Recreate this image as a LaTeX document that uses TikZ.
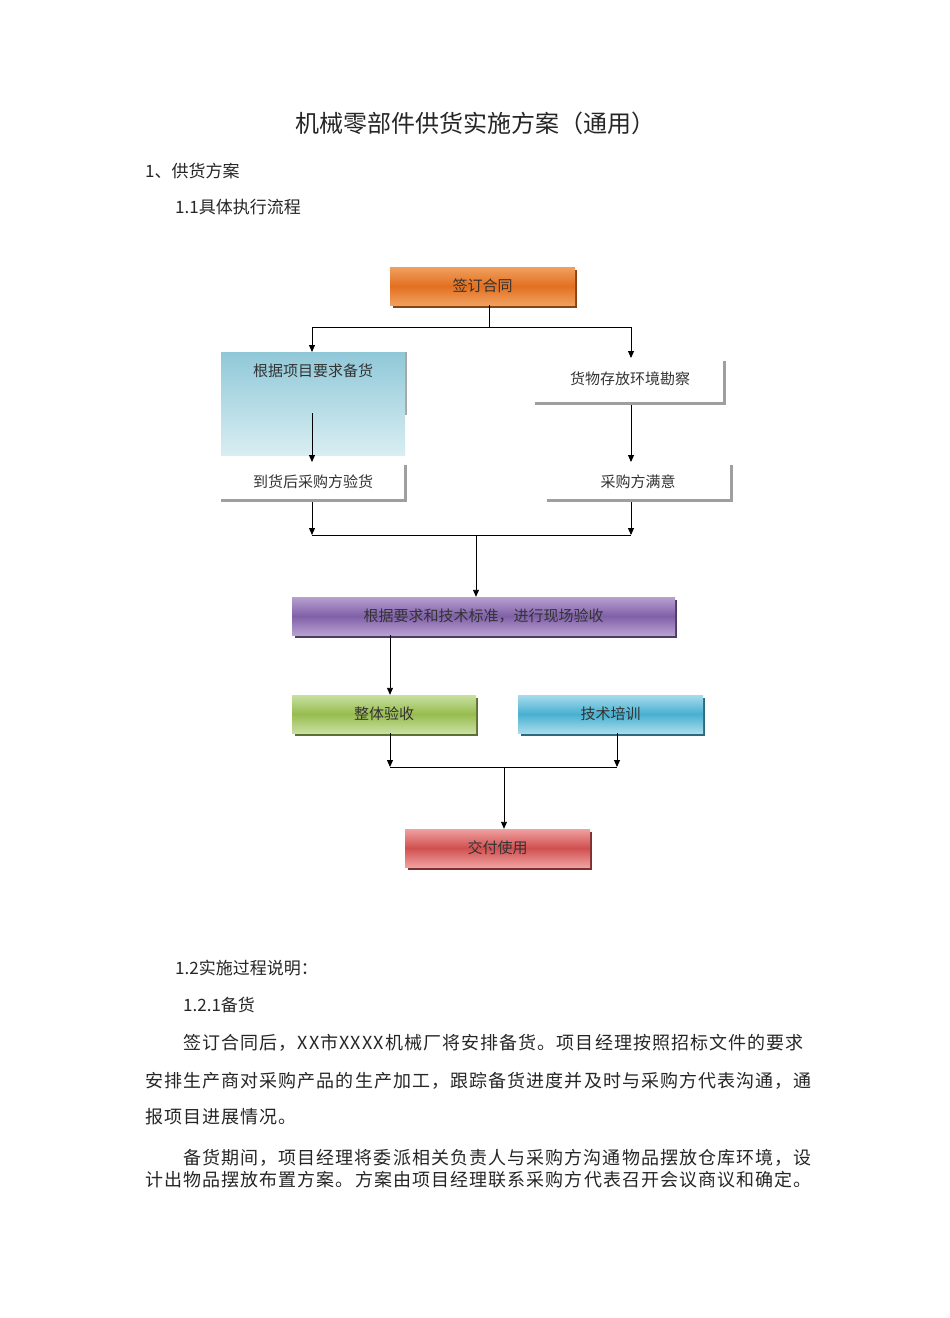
\documentclass[tikz,border=0pt]{standalone}
\usepackage{fontspec}
\setmainfont{Noto Sans CJK SC}
\newfontfamily\parafont[LetterSpace=6]{Noto Sans CJK SC}
\usetikzlibrary{arrows.meta}
\begin{document}
\begin{tikzpicture}[x=1pt,y=-1pt,
  txt/.style={font=\fontsize{17}{20}\selectfont, text=black!85, anchor=west, inner sep=0},
  ptxt/.style={font=\parafont\fontsize{18}{20}\selectfont, text=black!85, anchor=west, inner sep=0},
  lbl/.style={font=\fontsize{15}{17}\selectfont, text=black!80},
  arr/.style={-{Triangle[length=7pt,width=6pt]}, line width=0.9pt},
  ln/.style={line width=0.9pt}]
\useasboundingbox (0,0) rectangle (950,1318);
\fill[white] (0,0) rectangle (950,1318);
\newcommand{\mybox}[7]{%
  \fill[#7!60!black] (#2+3,#3+3) rectangle (#4+2,#5+3);
  \shade[top color=#6, bottom color=#6, middle color=#7] (#2,#3) rectangle (#4,#5);
  \node[lbl, minimum width=#4-#2, minimum height=#5-#3, inner sep=0] (#1) at ({(#2+#4)/2},{(#3+#5)/2}) {};
}
\definecolor{orT}{HTML}{F0A060}\definecolor{orM}{HTML}{E27020}
\definecolor{puT}{HTML}{B8A0D0}\definecolor{puM}{HTML}{8060A8}
\definecolor{grT}{HTML}{C8E0A0}\definecolor{grM}{HTML}{98BC50}
\definecolor{blT}{HTML}{A8DCEC}\definecolor{blM}{HTML}{48B0D0}
\definecolor{rdT}{HTML}{F0A0A0}\definecolor{rdM}{HTML}{D05050}
\definecolor{cyT}{HTML}{D8EEF2}\definecolor{cyM}{HTML}{90C8D8}

\node[font=\fontsize{24}{28}\selectfont, text=black!85] (title) at (475,123) {机械零部件供货实施方案（通用）};
\node[txt] (h1) at (145,171) {1、供货方案};
\node[txt] (h11) at (175,207) {1.1具体执行流程};

\mybox{sign}{390}{267}{575}{305}{orT}{orM}
\node[lbl] at (sign) {签订合同};
\fill[gray!70] (404,352) rectangle (407,415);
\shade[top color=cyM, bottom color=cyT] (221,352) rectangle (405,455);
\node[minimum width=184, minimum height=103, inner sep=0] (prep) at (313,403.5) {};
\node[lbl] at (313,371) {根据项目要求备货};
\newcommand{\wbox}[5]{%
  \fill[gray!75] (#2,#5-3) rectangle (#4,#5);
  \fill[gray!75] (#4-3,#3) rectangle (#4,#5);
  \node[minimum width=#4-#2, minimum height=#5-#3, inner sep=0] (#1) at ({(#2+#4)/2},{(#3+#5)/2}) {};
}
\wbox{survey}{535}{361}{726}{405}
\node[lbl] at (630,379) {货物存放环境勘察};
\wbox{check}{221}{465}{407}{502}
\node[lbl] at (313,482) {到货后采购方验货};
\wbox{satis}{547}{465}{733}{502}
\node[lbl] at (638,482) {采购方满意};

\mybox{site}{292}{597}{675}{635}{puT}{puM}
\node[lbl] at (site) {根据要求和技术标准，进行现场验收};
\mybox{whole}{292}{695}{476}{733}{grT}{grM}
\node[lbl] at (whole) {整体验收};
\mybox{train}{518}{695}{703}{733}{blT}{blM}
\node[lbl] at (train) {技术培训};
\mybox{deliver}{405}{829}{590}{867}{rdT}{rdM}
\node[lbl] at (deliver) {交付使用};

\coordinate (j1) at (489,327);
\draw[ln] (sign.south -| j1) -- (j1);
\draw[arr] (j1) -| (312,352);
\draw[arr] (j1) -| (631,358);
\draw[arr] (312,413) -- (312,462);
\draw[arr] (631,405) -- (631,462);
\coordinate (j2) at (476,535);
\draw[arr] (312,502) -- (312,535);
\draw[arr] (631,502) -- (631,535);
\draw[ln] (312,535) -- (631,535);
\draw[arr] (j2) -- (site.north -| j2);
\draw[arr] (390,635) -- (whole.north -| 390,0);
\coordinate (j3) at (504,767);
\draw[arr] (390,733) -- (390,767);
\draw[arr] (617,733) -- (617,767);
\draw[ln] (390,767) -- (617,767);
\draw[arr] (j3) -- (deliver.north -| j3);

\node[txt] (h12) at (175,968) {1.2实施过程说明：};
\node[txt] (h121) at (183,1005) {1.2.1备货};
\node[ptxt] (p1) at (183,1043) {签订合同后，XX市XXXX机械厂将安排备货。项目经理按照招标文件的要求};
\node[ptxt] (p2) at (145,1081) {安排生产商对采购产品的生产加工，跟踪备货进度并及时与采购方代表沟通，通};
\node[ptxt] (p3) at (145,1117) {报项目进展情况。};
\node[ptxt] (p4) at (183,1158) {备货期间，项目经理将委派相关负责人与采购方沟通物品摆放仓库环境，设};
\node[ptxt] (p5) at (145,1180) {计出物品摆放布置方案。方案由项目经理联系采购方代表召开会议商议和确定。};
\end{tikzpicture}
\end{document}
